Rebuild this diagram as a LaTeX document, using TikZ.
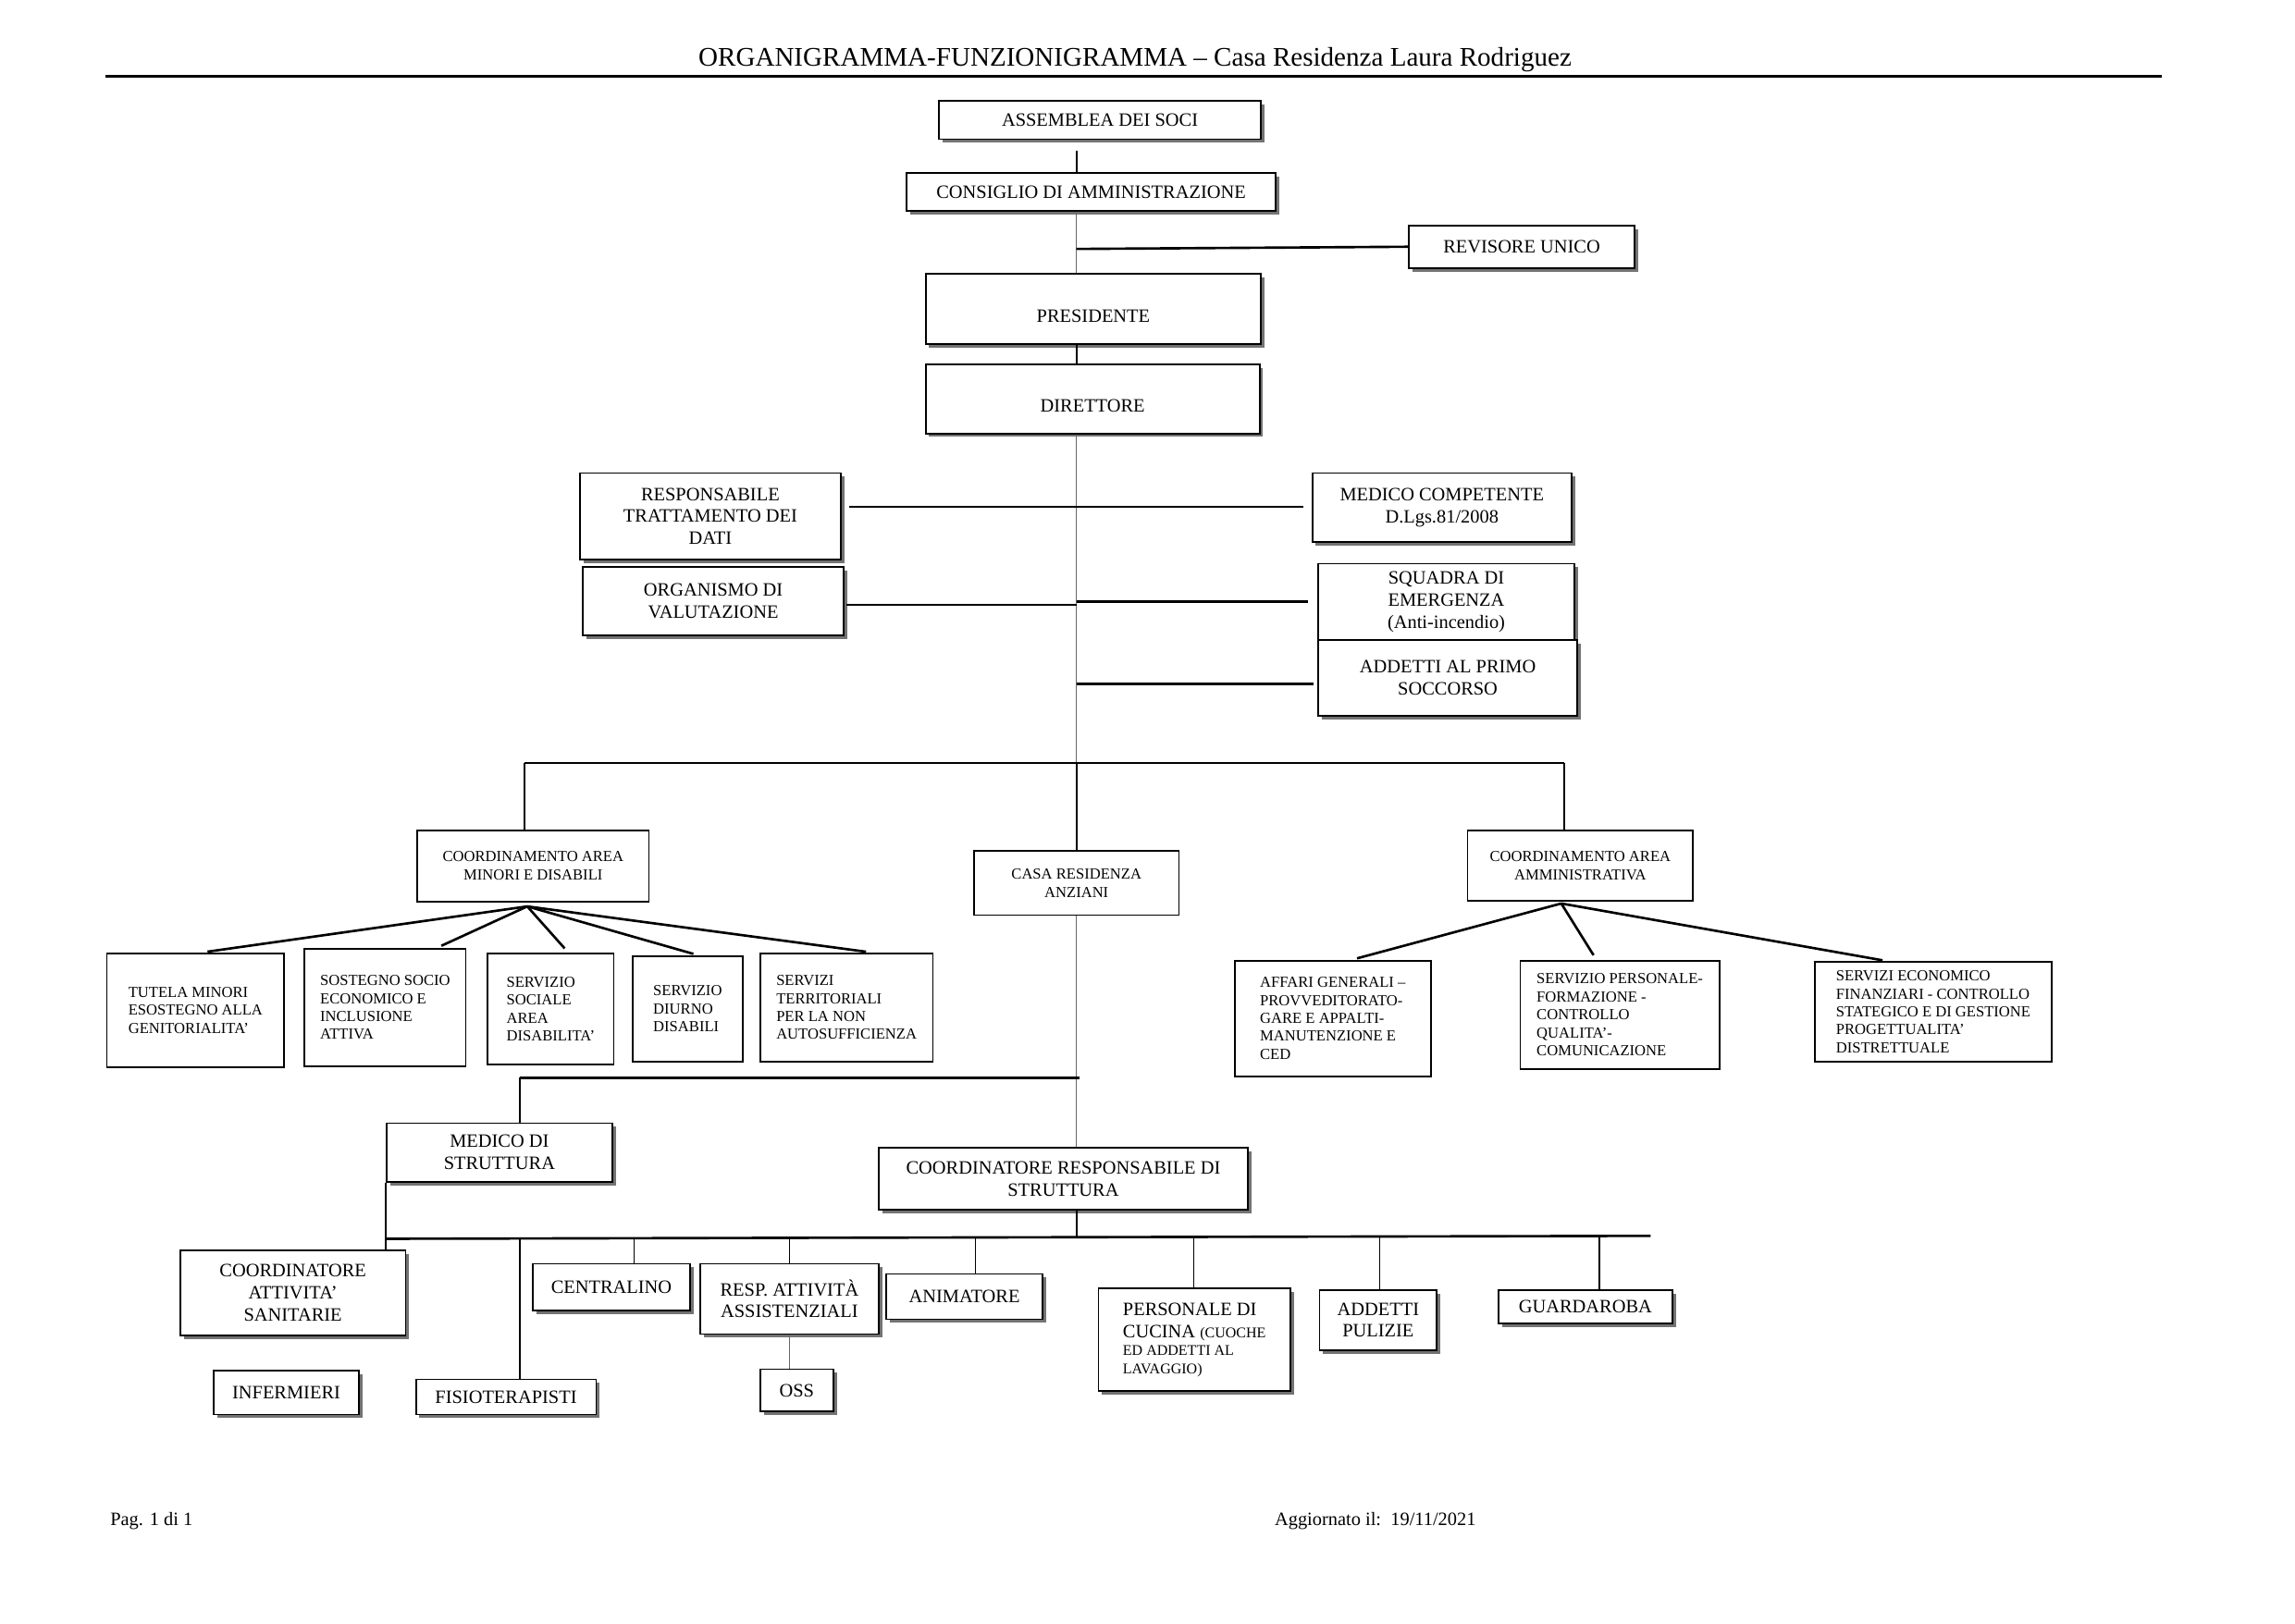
\documentclass[tikz,border=0pt]{standalone}
\usepackage{fontspec}
\setmainfont{Liberation Serif}
\usetikzlibrary{shadows}
\newcommand{\pxu}{0.018953cm}
\newcommand{\tinytxt}{\fontsize{5.45}{6.5}\selectfont}
\tikzset{box/.style={draw,fill=white,line width=0.6pt,align=center,inner sep=2pt,font=\fontsize{6.95}{8.1}\selectfont},
         shbox/.style={box,drop shadow={shadow xshift=1.3pt,shadow yshift=-1.3pt,fill=black!55,opacity=1}},
         mbox/.style={box,font=\fontsize{5.65}{6.8}\selectfont},
         lbox/.style={box,align=left,font=\fontsize{5.65}{6.6}\selectfont},
         lowtext/.style={text height=9.6pt,text depth=0pt},
         boxsize/.style 2 args={minimum width=#1*\pxu,minimum height=#2*\pxu},
         link/.style={line width=0.6pt},
         thick link/.style={line width=0.9pt},
         thin link/.style={line width=0.4pt,black!60},
        }
\begin{document}
\begin{tikzpicture}[x=\pxu,y=-\pxu]
        \useasboundingbox(0,0)rectangle(1567,1108.5);
        \node[font=\fontsize{9.9}{12}\selectfont](title)at(775,41){ORGANIGRAMMA-FUNZIONIGRAMMA – Casa Residenza Laura Rodriguez};
        \coordinate(hl)at(72,52);
        \coordinate(hr)at(1476,52);
        \draw[line width=1.1pt](hl)--(hr);

        \node[shbox,boxsize={220}{26}](assemblea)at(751,82){ASSEMBLEA DEI SOCI};
        \node[shbox,boxsize={252}{26}](consiglio)at(745,131){CONSIGLIO DI AMMINISTRAZIONE};
        \node[shbox,boxsize={154}{29}](revisore)at(1039,168.5){REVISORE UNICO};
        \node[shbox,lowtext,boxsize={229}{48}](presidente)at(746.5,211){PRESIDENTE};
        \node[shbox,lowtext,boxsize={228}{47}](direttore)at(746,272.5){DIRETTORE};
        \node[shbox,boxsize={178}{59}](trattamento)at(485,352.5){RESPONSABILE\\TRATTAMENTO DEI\\DATI};
        \node[shbox,boxsize={177}{47}](medcomp)at(984.5,346.5){MEDICO COMPETENTE\\D.Lgs.81/2008};
        \node[shbox,boxsize={178}{47}](organismo)at(487,410.5){ORGANISMO DI\\VALUTAZIONE};
        \node[shbox,boxsize={175}{52}](squadra)at(987.5,411){SQUADRA DI\\EMERGENZA\\(Anti-incendio)};
        \node[shbox,boxsize={177}{52}](soccorso)at(988.5,463){ADDETTI AL PRIMO\\SOCCORSO};

        \node[mbox,boxsize={158}{49}](cmin)at(364,591.5){COORDINAMENTO AREA\\MINORI E DISABILI};
        \node[mbox,boxsize={140}{44}](casa)at(735,603){CASA RESIDENZA\\ANZIANI};
        \node[mbox,boxsize={154}{48}](camm)at(1079,591){COORDINAMENTO AREA\\AMMINISTRATIVA};

        \node[lbox,boxsize={121}{78}](tutela)at(133.5,690){TUTELA MINORI\\ESOSTEGNO ALLA\\GENITORIALITA’};
        \node[lbox,boxsize={110}{80}](sostegno)at(263,688){SOSTEGNO SOCIO\\ECONOMICO E\\INCLUSIONE\\ATTIVA};
        \node[lbox,boxsize={86}{76}](sociale)at(376,689){SERVIZIO\\SOCIALE\\AREA\\DISABILITA’};
        \node[lbox,boxsize={75}{72}](diurno)at(469.5,689){SERVIZIO\\DIURNO\\DISABILI};
        \node[lbox,boxsize={118}{74}](territoriali)at(578,688){SERVIZI\\TERRITORIALI\\PER LA NON\\AUTOSUFFICIENZA};
        \node[lbox,boxsize={134}{79}](affari)at(910,695.5){AFFARI GENERALI –\\PROVVEDITORATO-\\GARE E APPALTI-\\MANUTENZIONE E\\CED};
        \node[lbox,boxsize={136}{74}](personale)at(1106,693){SERVIZIO PERSONALE-\\FORMAZIONE -\\CONTROLLO\\QUALITA’-\\COMUNICAZIONE};
        \node[lbox,boxsize={162}{68}](economico)at(1320,691){SERVIZI ECONOMICO\\FINANZIARI - CONTROLLO\\STATEGICO E DI GESTIONE\\PROGETTUALITA’\\DISTRETTUALE};

        \node[shbox,boxsize={154}{40}](medstr)at(341,787){MEDICO DI\\STRUTTURA};
        \node[shbox,boxsize={252}{42}](coordresp)at(726,805){COORDINATORE RESPONSABILE DI\\STRUTTURA};
        \node[shbox,boxsize={154}{58}](cas)at(200,883){COORDINATORE\\ATTIVITA’\\SANITARIE};
        \node[shbox,boxsize={107}{32}](centralino)at(417.5,879){CENTRALINO};
        \node[shbox,boxsize={122}{48}](respatt)at(539,887){RESP. ATTIVITÀ\\ASSISTENZIALI};
        \node[shbox,boxsize={107}{31}](animatore)at(658.5,885.5){ANIMATORE};
        \node[shbox,align=left,boxsize={131}{70}](cucina)at(815.5,915){PERSONALE DI\\CUCINA {\tinytxt(CUOCHE}\\[-1.5pt]{\tinytxt ED ADDETTI AL}\\[-1.5pt]{\tinytxt LAVAGGIO)}};
        \node[shbox,boxsize={80}{41}](pulizie)at(941,901.5){ADDETTI\\PULIZIE};
        \node[shbox,boxsize={119}{23}](guardaroba)at(1082.5,892.5){GUARDAROBA};
        \node[shbox,boxsize={99}{30}](infermieri)at(195.5,951){INFERMIERI};
        \node[shbox,boxsize={123}{24}](fisio)at(345.5,954){FISIOTERAPISTI};
        \node[shbox,boxsize={50}{29}](oss)at(544,949.5){OSS};

        \coordinate(spine)at(735,0);
        \coordinate(s1)at(735,103);
        \draw[link](s1)--(s1|-consiglio.north);
        \draw[thin link](consiglio.south-|spine)--(presidente.north-|spine);
        \coordinate(rv)at(735,170);
        \draw[thick link](rv)--(revisore.west);
        \draw[link](presidente.south-|spine)--(direttore.north-|spine);
        \coordinate(bus1)at(0,521);
        \draw[thin link](direttore.south-|spine)--(spine|-bus1);

        \coordinate(rl)at(580,346);
        \coordinate(rr)at(890,346);
        \draw[thick link](rl)--(rr);
        \coordinate(ol)at(578,413);
        \draw[thick link](ol)--(ol-|spine);
        \coordinate(sq)at(893,411);
        \draw[thick link](sq-|spine)--(sq);
        \coordinate(ps)at(897,467);
        \draw[thick link](ps-|spine)--(ps);

        \coordinate(b1l)at(358,521);
        \coordinate(b1r)at(1068,521);
        \draw[thick link](b1l)--(b1r);
        \draw[link](b1l)--(b1l|-cmin.north);
        \draw[link](spine|-bus1)--(casa.north-|spine);
        \draw[link](b1r)--(b1r|-camm.north);

        \coordinate(fa)at(360,619);
        \foreach \n/\x in {tutela/138,sostegno/298,sociale/388,diurno/477,territoriali/595}
            \draw[thick link,shorten >=2pt](fa)--(\x,0|-\n.north);
        \coordinate(fb)at(1066,617);
        \foreach \n/\x in {affari/923,personale/1090,economico/1289}
            \draw[thick link,shorten >=2pt](fb)--(\x,0|-\n.north);

        \draw[thin link](casa.south-|spine)--(coordresp.north-|spine);
        \coordinate(h2l)at(355,736);
        \coordinate(h2r)at(737,736);
        \draw[thick link](h2l)--(h2r);
        \draw[link](h2l)--(h2l|-medstr.north);
        \coordinate(bus2)at(0,845);
        \draw[link](coordresp.south-|spine)--(spine|-bus2);
        \coordinate(b2l)at(264,846);
        \coordinate(b2r)at(1127,844);
        \draw[thick link](b2l)--(b2r);
        \draw[link](medstr.south west)--(medstr.south west|-cas.north);
        \draw[link](h2l|-bus2)--(h2l|-fisio.north);
        \foreach \n/\x in {centralino/433,respatt/539,animatore/666,cucina/815,pulizie/942,guardaroba/1092}
            \draw[link](\x,0|-bus2)--(\x,0|-\n.north);
        \draw[thin link](respatt.south)--(respatt.south|-oss.north);

        \node[anchor=west,inner sep=0pt,font=\fontsize{6.95}{8}\selectfont](pag)at(75,1039){Pag. 1 di 1};
        \node[anchor=west,inner sep=0pt,font=\fontsize{6.95}{8}\selectfont](agg)at(870,1039){Aggiornato il:\ \ 19/11/2021};
\end{tikzpicture}
\end{document}
